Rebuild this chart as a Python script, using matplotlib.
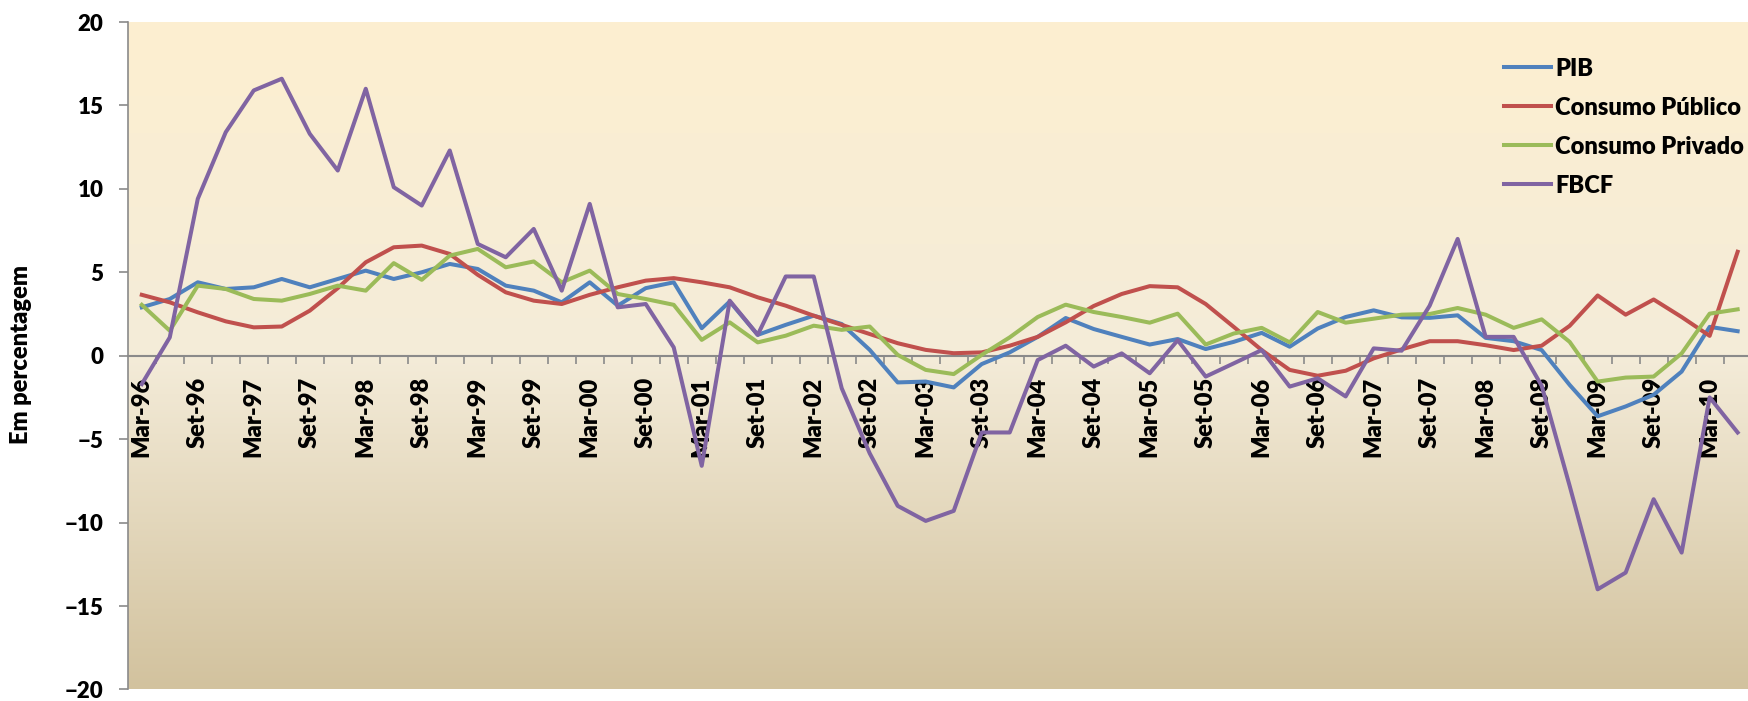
import numpy as np
import matplotlib.pyplot as plt
from matplotlib.colors import LinearSegmentedColormap

plt.rcParams['font.family'] = ['Lato', 'DejaVu Sans']
plt.rcParams['font.weight'] = 'bold'

# rótulos do eixo (um a cada dois trimestres)
rotulos = ["Mar-96", "Set-96", "Mar-97", "Set-97", "Mar-98", "Set-98", "Mar-99", "Set-99",
           "Mar-00", "Set-00", "Mar-01", "Set-01", "Mar-02", "Set-02", "Mar-03", "Set-03",
           "Mar-04", "Set-04", "Mar-05", "Set-05", "Mar-06", "Set-06", "Mar-07", "Set-07",
           "Mar-08", "Set-08", "Mar-09", "Set-09", "Mar-10"]

# taxas trimestrais, Mar-96 a Jun-10
pib = [2.9, 3.4, 4.4, 4.0, 4.1, 4.6, 4.1, 4.6, 5.1, 4.6, 5.0, 5.5, 5.2, 4.2, 3.9, 3.2,
       4.4, 3.0, 4.05, 4.4, 1.65, 3.25, 1.25, 1.85, 2.4, 1.9, 0.35, -1.6, -1.55, -1.9, -0.5, 0.2,
       1.13, 2.26, 1.6, 1.13, 0.67, 1.0, 0.4, 0.83, 1.37, 0.54, 1.63, 2.32, 2.72, 2.3, 2.27, 2.42,
       1.07, 0.87, 0.34, -1.75, -3.63, -3.04, -2.34, -0.95, 1.73, 1.47]
conPub = [3.65, 3.2, 2.6, 2.06, 1.7, 1.75, 2.7, 4.05, 5.6, 6.5, 6.6, 6.1, 4.85, 3.8, 3.3, 3.1,
          3.65, 4.1, 4.5, 4.65, 4.4, 4.1, 3.5, 3.0, 2.4, 1.85, 1.3, 0.75, 0.35, 0.15, 0.2, 0.6,
          1.13, 2.0, 2.98, 3.7, 4.17, 4.1, 3.1, 1.73, 0.34, -0.85, -1.2, -0.9, -0.16, 0.38, 0.87, 0.87,
          0.63, 0.34, 0.6, 1.79, 3.61, 2.46, 3.37, 2.32, 1.19, 6.23]
conPri = [3.05, 1.5, 4.2, 4.0, 3.4, 3.3, 3.7, 4.2, 3.9, 5.55, 4.55, 6.0, 6.4, 5.3, 5.65, 4.4,
          5.1, 3.7, 3.4, 3.05, 0.95, 2.0, 0.8, 1.2, 1.8, 1.55, 1.75, 0.05, -0.85, -1.1, 0.05, 1.1,
          2.32, 3.06, 2.62, 2.32, 1.98, 2.52, 0.67, 1.33, 1.67, 0.8, 2.62, 1.98, 2.22, 2.46, 2.5, 2.86,
          2.46, 1.67, 2.18, 0.83, -1.55, -1.31, -1.25, 0.14, 2.52, 2.78]
fbcf = [-1.7, 1.1, 9.4, 13.4, 15.9, 16.6, 13.3, 11.1, 16.0, 10.1, 9.0, 12.3, 6.7, 5.9, 7.6, 3.9,
        9.1, 2.9, 3.1, 0.5, -6.6, 3.3, 1.25, 4.75, 4.75, -1.95, -5.85, -9.0, -9.9, -9.3, -4.6, -4.6,
        -0.26, 0.6, -0.65, 0.14, -1.05, 0.93, -1.25, -0.46, 0.34, -1.85, -1.35, -2.44, 0.44, 0.3, 3.0, 7.0,
        1.13, 1.13, -1.8, -7.8, -14.0, -13.0, -8.6, -11.8, -2.5, -4.6]

series = [("PIB", pib, "#4F81BD"),
          ("Consumo Público", conPub, "#C0504D"),
          ("Consumo Privado", conPri, "#9BBB59"),
          ("FBCF", fbcf, "#8064A2")]

cinza = "#8A8A8A"
xMax = 57.37
peso = "heavy"

fig = plt.figure(figsize=(17.48, 7.01), dpi=100)
ax = fig.add_axes([0.0731, 0.0165, 0.9269, 0.9521])

# fundo em degradê
fundo = LinearSegmentedColormap.from_list(
    "fundo", [(0.0, "#D2C29E"), (0.5, "#F4ECD9"), (1.0, "#FDEFD0")])
ax.imshow(np.linspace(0, 1, 256).reshape(-1, 1), cmap=fundo, origin="lower",
          extent=[-0.5, xMax, -20, 20], aspect="auto", zorder=0)

x = np.arange(len(pib))
for nom, val, cor in series:
    ax.plot(x, val, color=cor, linewidth=2.9, label=nom, zorder=3)

ax.set_xlim(-0.5, xMax)
ax.set_ylim(-20, 20)

for lad in ["top", "right"]:
    ax.spines[lad].set_visible(False)
ax.spines["left"].set_color(cinza)
ax.spines["left"].set_linewidth(1.2)
ax.spines["bottom"].set_position(("data", 0))
ax.spines["bottom"].set_color(cinza)
ax.spines["bottom"].set_linewidth(1.5)
ax.spines["bottom"].set_zorder(2)

ax.set_xticks(x[::2])
ax.set_xticklabels(rotulos, rotation=90, fontsize=17, fontweight=peso)
ax.set_xticks(np.arange(0.5, xMax, 1), minor=True)
ax.tick_params(axis="x", which="major", length=0, pad=15)
ax.tick_params(axis="x", which="minor", length=6, width=1.2, color=cinza, direction="out")

ax.set_yticks(np.arange(-20, 21, 5))
ax.tick_params(axis="y", length=6.5, width=1.2, color=cinza, pad=11, labelsize=16)
for t in ax.get_yticklabels():
    t.set_fontweight(peso)

fig.text(0.012, 0.495, "Em percentagem", rotation=90, ha="center", va="center",
         fontsize=17, fontweight=peso)

ax.legend(loc="upper left", bbox_to_anchor=(0.848, 0.948), bbox_transform=fig.transFigure,
          frameon=False, prop={"weight": peso, "size": 17}, handlelength=2.0,
          handletextpad=0.2, labelspacing=0.72, borderpad=0.4)

fig.savefig("out.png", dpi=100, facecolor="white")
